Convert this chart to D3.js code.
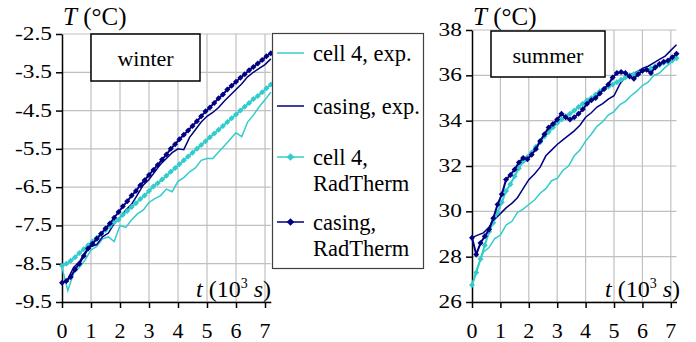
<!DOCTYPE html>
<html>
<head>
<meta charset="utf-8">
<script src="https://cdn.jsdelivr.net/npm/d3@7"></script>
<style>
  body { margin: 0; background: #fff; }
  text { font-family: "Liberation Serif", "Times New Roman", serif; }
  .grid line { stroke: #c0c0c0; stroke-width: 1.2; }
  .axis path, .axis line { stroke: #000; stroke-width: 1.5; }
</style>
</head>
<body>
<div id="chart"></div>
<script>
// sample times (10^3 s): experiments every 0.2, RadTherm every 0.15
const tExp = d3.range(37).map((i) => i * 0.2);
const tSim = d3.range(49).map((i) => i * 0.15);

const seriesNames = ['cell 4, exp.', 'casing, exp.', 'cell 4,|RadTherm', 'casing,|RadTherm'];

const winterCellExp = [-8.6, -9.2, -8.75, -8.6, -8.4, -8.14, -8.05, -7.85, -7.8, -7.92,
  -7.5, -7.55, -7.35, -7.2, -7.1, -6.9, -6.8, -6.72, -6.55, -6.62,
  -6.35, -6.25, -6.1, -6.0, -5.8, -5.75, -5.75, -5.58, -5.42, -5.25,
  -5.08, -5.18, -4.8, -4.62, -4.4, -4.22, -4.02];
const winterCasingExp = [-9.0, -8.9, -8.6, -8.45, -8.2, -8.05, -8.0, -7.8, -7.7, -7.45,
  -7.3, -7.1, -6.95, -6.7, -6.45, -6.3, -6.1, -5.9, -5.75, -5.6,
  -5.5, -5.52, -5.2, -5.0, -4.8, -4.65, -4.55, -4.42, -4.25, -4.1,
  -3.95, -3.8, -3.62, -3.5, -3.4, -3.3, -3.15];
const winterCellSim = [-8.55, -8.5, -8.42, -8.33, -8.22, -8.12, -8.02, -7.92, -7.82, -7.72,
  -7.62, -7.52, -7.42, -7.35, -7.22, -7.12, -7.02, -6.92, -6.81, -6.72,
  -6.6, -6.48, -6.4, -6.3, -6.2, -6.1, -6.0, -5.9, -5.8, -5.7,
  -5.6, -5.5, -5.4, -5.3, -5.2, -5.1, -5.0, -4.9, -4.8, -4.7,
  -4.6, -4.5, -4.4, -4.3, -4.2, -4.12, -4.02, -3.92, -3.82];
const winterCasingSim = [-9.0, -8.95, -8.85, -8.65, -8.5, -8.3, -8.1, -7.98, -7.85, -7.72,
  -7.58, -7.45, -7.3, -7.15, -7.0, -6.87, -6.72, -6.6, -6.45, -6.32,
  -6.18, -6.05, -5.92, -5.78, -5.65, -5.5, -5.38, -5.25, -5.13, -5.02,
  -4.9, -4.78, -4.65, -4.52, -4.42, -4.3, -4.18, -4.08, -3.95, -3.85,
  -3.75, -3.64, -3.55, -3.45, -3.36, -3.27, -3.18, -3.08, -3.0];

const summerCellExp = [26.75, 27.55, 28.2, 28.4, 28.8, 28.95, 29.4, 29.55, 29.95, 30.1,
  30.3, 30.5, 30.8, 31.0, 31.35, 31.45, 31.8, 32.0, 32.45, 32.7,
  33.1, 33.4, 33.75, 33.95, 34.25, 34.4, 34.7, 34.85, 35.1, 35.3,
  35.55, 35.7, 36.0, 36.1, 36.35, 36.55, 36.95];
const summerCasingExp = [28.84, 28.95, 29.05, 29.3, 29.65, 29.9, 30.15, 30.35, 30.6, 31.0,
  31.4, 31.65, 31.95, 32.45, 32.7, 32.95, 33.15, 33.35, 33.55, 33.8,
  34.15, 34.35, 34.6, 34.75, 34.95, 35.1, 35.6, 35.95, 36.05, 36.15,
  36.3, 36.4, 36.55, 36.7, 36.85, 37.1, 37.35];
const summerCellSim = [26.75, 27.3, 27.9, 28.5, 29.1, 29.5, 29.95, 30.4, 30.9, 31.2,
  31.55, 31.9, 32.2, 32.4, 32.6, 32.85, 33.05, 33.3, 33.5, 33.7,
  33.9, 34.05, 34.2, 34.3, 34.45, 34.6, 34.75, 34.9, 35.0, 35.15,
  35.3, 35.4, 35.5, 35.6, 35.7, 35.8, 35.9, 36.0, 36.05, 36.1,
  36.2, 36.25, 36.3, 36.4, 36.45, 36.55, 36.6, 36.65, 36.75];
const summerCasingSim = [28.84, 28.1, 28.6, 28.9, 29.2, 29.7, 30.3, 30.75, 31.4, 31.6,
  31.85, 32.15, 32.35, 32.3, 32.5, 32.75, 33.1, 33.4, 33.7, 33.85,
  34.05, 34.3, 34.15, 34.05, 34.15, 34.3, 34.5, 34.75, 34.9, 35.0,
  35.2, 35.4, 35.6, 35.9, 36.1, 36.15, 36.1, 35.95, 35.85, 36.05,
  36.2, 36.25, 36.1, 36.35, 36.5, 36.6, 36.65, 36.8, 36.95];

const xTicks = [0, 1, 2, 3, 4, 5, 6, 7];
const winterTicks = [-2.5, -3.5, -4.5, -5.5, -6.5, -7.5, -8.5, -9.5];
const summerTicks = [26, 28, 30, 32, 34, 36, 38];

const CYAN = '#33cccc';
const NAVY = '#000080';
const W = 696;
const H = 342;

const svg = d3.select('#chart').append('svg').attr('width', W).attr('height', H);
svg.append('rect').attr('width', W).attr('height', H).attr('fill', '#fff');

const diamond = (r) => 'M0,' + -r + 'L' + r + ',0L0,' + r + 'L' + -r + ',0Z';

function drawPanel(cfg) {
  const x = d3.scaleLinear().domain([0, 7.2]).range([cfg.left, cfg.right]);
  const y = d3.scaleLinear().domain(cfg.yDomain).range([302, cfg.top]);
  const g = svg.append('g');

  // grid
  const grid = g.append('g').attr('class', 'grid');
  grid.selectAll('line.v').data(xTicks.slice(1)).join('line')
    .attr('x1', (d) => x(d)).attr('x2', (d) => x(d))
    .attr('y1', y(cfg.yDomain[1])).attr('y2', y(cfg.yDomain[0]));
  grid.selectAll('line.h').data(cfg.yTicks).join('line')
    .attr('x1', x(0)).attr('x2', x(7.2))
    .attr('y1', (d) => y(d)).attr('y2', (d) => y(d));

  // season label box
  g.append('rect')
    .attr('x', cfg.box[0]).attr('y', cfg.box[1])
    .attr('width', cfg.box[2]).attr('height', cfg.box[3])
    .attr('fill', '#fff').attr('stroke', '#000').attr('stroke-width', 1.5);
  g.append('text')
    .attr('x', cfg.box[0] + cfg.box[2] / 2).attr('y', cfg.box[1] + 32)
    .attr('text-anchor', 'middle').attr('font-size', 22)
    .text(cfg.label);

  // axes
  g.append('g').attr('class', 'axis')
    .attr('transform', 'translate(' + x(0) + ',0)')
    .call(d3.axisLeft(y).tickValues(cfg.yTicks).tickSize(6).tickSizeOuter(0).tickFormat(''));
  g.append('g').attr('class', 'axis')
    .attr('transform', 'translate(0,' + 302 + ')')
    .call(d3.axisBottom(x).tickValues(xTicks).tickSize(6).tickSizeOuter(0).tickFormat(''));

  g.selectAll('text.ylab').data(cfg.yTicks).join('text')
    .attr('class', 'ylab')
    .attr('text-anchor', 'end')
    .attr('transform', (d) => 'translate(' + (x(0) - 10) + ',' + (y(d) + 6) + ') scale(1.3,1)')
    .attr('font-size', 18)
    .text((d) => (cfg.yFormat ? cfg.yFormat(d) : d));

  g.selectAll('text.xlab').data(xTicks).join('text')
    .attr('class', 'xlab')
    .attr('x', (d) => x(d)).attr('y', 338)
    .attr('text-anchor', 'middle').attr('font-size', 22)
    .text((d) => d);

  // axis titles
  const tt = g.append('text').attr('x', x(0) + 1).attr('y', 25).attr('font-size', 25);
  tt.append('tspan').attr('font-style', 'italic').text('T');
  tt.append('tspan').text(' (°C)');

  const xt = g.append('text').attr('x', cfg.xTitleEnd).attr('y', 297)
    .attr('text-anchor', 'end').attr('font-size', 24);
  xt.append('tspan').attr('font-style', 'italic').text('t');
  xt.append('tspan').text(' (10');
  xt.append('tspan').attr('dy', -9).attr('font-size', 14).text('3');
  xt.append('tspan').attr('dy', 9).attr('font-style', 'italic').text(' s');
  xt.append('tspan').text(')');

  // series
  const line = d3.line().x((d) => x(d[0])).y((d) => y(d[1]));
  const zipped = (ts, vs) => ts.map((t, i) => [t, vs[i]]);

  const series = [
    { data: zipped(tExp, cfg.cellExp), color: CYAN, marks: false },
    { data: zipped(tExp, cfg.casingExp), color: NAVY, marks: false },
    { data: zipped(tSim, cfg.cellSim), color: CYAN, marks: true },
    { data: zipped(tSim, cfg.casingSim), color: NAVY, marks: true },
  ];
  series.forEach((s) => {
    g.append('path').datum(s.data)
      .attr('d', line).attr('fill', 'none')
      .attr('stroke', s.color).attr('stroke-width', s.marks ? 2 : 1.5);
    if (s.marks) {
      g.selectAll(null).data(s.data).join('path')
        .attr('transform', (d) => 'translate(' + x(d[0]) + ',' + y(d[1]) + ')')
        .attr('d', diamond(3))
        .attr('fill', s.color);
    }
  });
}

drawPanel({
  left: 62, right: 270.8, top: 34,
  yDomain: [-9.5, -2.5], yTicks: winterTicks,
  yFormat: (d) => d3.format('.1f')(d).replace('−', '-'),
  label: 'winter', box: [91, 34, 109, 47], xTitleEnd: 271,
  cellExp: winterCellExp, casingExp: winterCasingExp,
  cellSim: winterCellSim, casingSim: winterCasingSim,
});

drawPanel({
  left: 472, right: 676.5, top: 30,
  yDomain: [26, 38], yTicks: summerTicks,
  label: 'summer', box: [491, 31, 114, 46], xTitleEnd: 680,
  cellExp: summerCellExp, casingExp: summerCasingExp,
  cellSim: summerCellSim, casingSim: summerCasingSim,
});

// legend
const legend = svg.append('g');
legend.append('rect')
  .attr('x', 272.5).attr('y', 33.5).attr('width', 151).attr('height', 235)
  .attr('fill', '#fff').attr('stroke', '#404040').attr('stroke-width', 1.2);
const legendRows = [
  { y: 53, color: CYAN, marks: false },
  { y: 106, color: NAVY, marks: false },
  { y: 157, color: CYAN, marks: true },
  { y: 222, color: NAVY, marks: true },
];
legendRows.forEach((r, i) => {
  legend.append('line')
    .attr('x1', 277).attr('x2', 304).attr('y1', r.y).attr('y2', r.y)
    .attr('stroke', r.color).attr('stroke-width', 1.5);
  if (r.marks) {
    legend.append('path').attr('d', diamond(3.8))
      .attr('transform', 'translate(290.5,' + r.y + ')').attr('fill', r.color);
  }
  const txt = legend.append('text').attr('x', 313).attr('y', r.y + 8).attr('font-size', 22.5);
  seriesNames[i].split('|').forEach((part, k) => {
    txt.append('tspan').attr('x', 313).attr('dy', k === 0 ? 0 : 25.5).text(part);
  });
});
</script>
</body>
</html>
